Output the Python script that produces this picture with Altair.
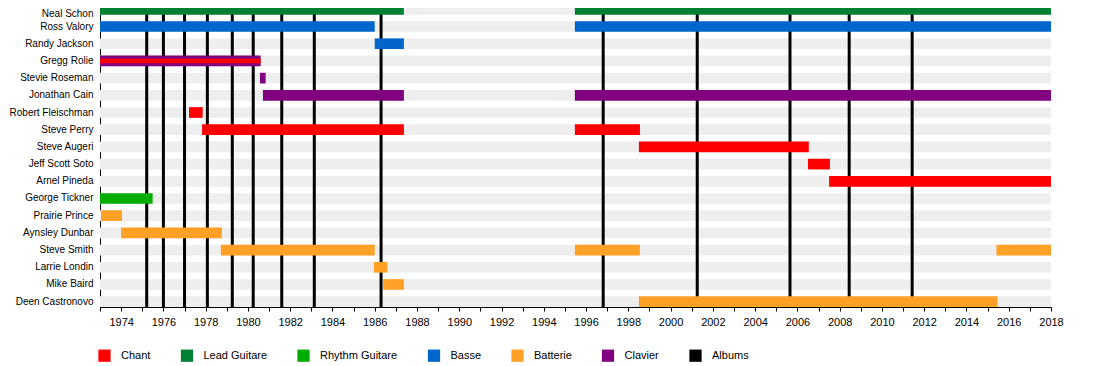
import altair as alt
import pandas as pd

members = [
    "Neal Schon", "Ross Valory", "Randy Jackson", "Gregg Rolie", "Stevie Roseman",
    "Jonathan Cain", "Robert Fleischman", "Steve Perry", "Steve Augeri",
    "Jeff Scott Soto", "Arnel Pineda", "George Tickner", "Prairie Prince",
    "Aynsley Dunbar", "Steve Smith", "Larrie Londin", "Mike Baird", "Deen Castronovo",
]

roles = ["Chant", "Lead Guitare", "Rhythm Guitare", "Basse", "Batterie", "Clavier", "Albums"]
role_colors = ["#ff0000", "#008033", "#00ad00", "#0066cc", "#ffa126", "#800080", "#000000"]

period = [1973, 2018]

albums = [1975.21, 1976.0, 1977.0, 1978.08, 1979.26, 1980.25, 1981.6, 1983.14,
          1986.3, 1996.81, 2001.26, 2005.65, 2008.45, 2011.43]

stint_member = [
    "Neal Schon", "Neal Schon",
    "Ross Valory", "Ross Valory",
    "Randy Jackson",
    "Gregg Rolie",
    "Stevie Roseman",
    "Jonathan Cain", "Jonathan Cain",
    "Robert Fleischman",
    "Steve Perry", "Steve Perry",
    "Steve Augeri",
    "Jeff Scott Soto",
    "Arnel Pineda",
    "George Tickner",
    "Prairie Prince",
    "Aynsley Dunbar",
    "Steve Smith", "Steve Smith", "Steve Smith",
    "Larrie Londin",
    "Mike Baird",
    "Deen Castronovo",
]
stint_start = [
    1973, 1995.47,
    1973, 1995.47,
    1986.0,
    1973,
    1980.57,
    1980.71, 1995.47,
    1977.21,
    1977.83, 1995.47,
    1998.5,
    2006.5,
    2007.5,
    1973,
    1973.05,
    1974.0,
    1978.72, 1995.47, 2015.42,
    1985.96,
    1986.4,
    1998.5,
]
stint_end = [
    1987.38, 2018,
    1986.0, 2018,
    1987.38,
    1980.6,
    1980.84,
    1987.38, 2018,
    1977.86,
    1987.38, 1998.55,
    2006.54,
    2007.54,
    2018,
    1975.49,
    1974.04,
    1978.77,
    1986.0, 1998.55, 2018,
    1986.6,
    1987.38,
    2015.47,
]
stint_role = [
    "Lead Guitare", "Lead Guitare",
    "Basse", "Basse",
    "Basse",
    "Clavier",
    "Clavier",
    "Clavier", "Clavier",
    "Chant",
    "Chant", "Chant",
    "Chant",
    "Chant",
    "Chant",
    "Rhythm Guitare",
    "Batterie",
    "Batterie",
    "Batterie", "Batterie", "Batterie",
    "Batterie",
    "Batterie",
    "Batterie",
]

# secondary role drawn as a thin bar inside the main one
extra_member = ["Gregg Rolie"]
extra_start = [1973]
extra_end = [1980.6]
extra_role = ["Chant"]

bands_df = pd.DataFrame({"member": members,
                         "start": [period[0]] * len(members),
                         "end": [period[1]] * len(members)})
albums_df = pd.DataFrame({"start": albums})
stints_df = pd.DataFrame({"member": stint_member, "start": stint_start,
                          "end": stint_end, "role": stint_role})
extra_df = pd.DataFrame({"member": extra_member, "start": extra_start,
                         "end": extra_end, "role": extra_role})

x_enc = alt.X(
    "start:Q",
    scale=alt.Scale(domain=period, nice=False, zero=False),
    axis=alt.Axis(
        title=None, grid=False, values=list(range(period[0], period[1] + 1)),
        format="d", labelExpr="datum.value % 2 == 0 ? datum.label : ''",
        tickSize=4, tickColor="black", domainColor="black", labelPadding=5,
        labelFontSize=11, labelColor="black", labelFlush=False, labelOverlap=False,
    ),
)
y_enc = alt.Y(
    "member:N", sort=members,
    scale=alt.Scale(paddingInner=0.38, paddingOuter=0),
    axis=alt.Axis(
        title=None, ticks=False, domainColor="black", labelPadding=7,
        labelFontSize=10, labelColor="black",
        # first label nudged down so it stays inside the visible page
        labelOffset={"condition": {"test": "datum.value == 'Neal Schon'", "value": 5},
                     "value": 0},
    ),
)

color_scale = alt.Scale(domain=roles, range=role_colors)

bands = alt.Chart(bands_df).mark_bar(color="#eeeeee").encode(
    x=x_enc, x2="end:Q", y=y_enc)

rules = alt.Chart(albums_df).mark_rule(color="black", strokeWidth=3).encode(x=x_enc)

bars = alt.Chart(stints_df).mark_bar().encode(
    x=x_enc, x2="end:Q", y=y_enc,
    color=alt.Color(
        "role:N", scale=color_scale,
        legend=alt.Legend(
            orient="none", legendX=-2, legendY=345, direction="horizontal",
            title=None, symbolType="square", symbolSize=150, symbolStrokeWidth=0,
            labelFontSize=11, labelColor="black", labelOffset=10, columnPadding=29.5,
            values=roles,
        ),
    ),
)

extra = alt.Chart(extra_df).mark_bar(height=4.5).encode(
    x=x_enc, x2="end:Q", y=y_enc,
    color=alt.Color("role:N", scale=color_scale, legend=None),
)

chart = alt.layer(bands, rules, bars, extra).properties(
    width=951, height=303,
    autosize=alt.AutoSizeParams(type="none"),
    padding={"left": 92, "top": -4, "right": 30, "bottom": 55},
).configure(font="Liberation Sans").configure_view(stroke=None)

chart.save("out.html", embed_options={"renderer": "svg", "actions": False})
